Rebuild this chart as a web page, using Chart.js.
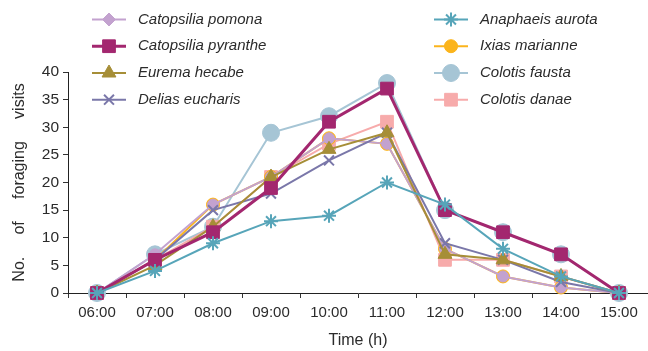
<!DOCTYPE html>
<html lang="en">
  <head>
    <meta charset="UTF-8" />
    <title>Foraging visits</title>
    <script src="https://cdn.jsdelivr.net/npm/chart.js"></script>
    <style>
      * {
        margin: 0;
        padding: 0;
        box-sizing: border-box;
      }
      body {
        background: #ffffff;
      }
      .wrap {
        width: 648px;
        height: 351px;
      }
    </style>
  </head>
  <body>
    <div class="wrap">
      <canvas id="visitsChart"></canvas>
    </div>

    <script>
      // Data
      const hours = ["06:00", "07:00", "08:00", "09:00", "10:00", "11:00", "12:00", "13:00", "14:00", "15:00"];
      const yTicks = [0, 5, 10, 15, 20, 25, 30, 35, 40];

      const catopsiliaPomona = [0, 7, 16, 21, 28, 27, 8, 3, 1, 0];
      const catopsiliaPyranthe = [0, 6, 11, 19, 31, 37, 15, 11, 7, 0];
      const euremaHecabe = [0, 5, 12, 21, 26, 29, 7, 6, 3, 0];
      const deliasEucharis = [0, 6, 15, 18, 24, 29, 9, 6, 2, 0];
      const anaphaeisAurota = [0, 4, 9, 13, 14, 20, 16, 8, 3, 0];
      const ixiasMarianne = [0, 6, 16, 21, 28, 27, 8, 3, 1, 0];
      const colotisFausta = [0, 7, 12, 29, 32, 38, 15, 11, 7, 0];
      const colotisDanae = [0, 6, 12, 21, 27, 31, 6, 6, 3, 0];

      const textColor = "#2b2b2b";

      // helper to build one line dataset
      function series(label, data, color, style, radius, lineWidth, order, column, row) {
        const isStroke = style === "crossRot" || style === "star";
        return {
          label: label,
          data: data,
          borderColor: color,
          backgroundColor: color,
          borderWidth: lineWidth,
          pointStyle: style,
          pointRadius: radius,
          pointHoverRadius: radius,
          pointBackgroundColor: color,
          pointBorderColor: color,
          pointBorderWidth: isStroke ? 2 : 1,
          tension: 0,
          fill: false,
          clip: false,
          order: order,
          legendCol: column,
          legendRow: row,
          legendStyle: style,
          legendRadius: radius,
        };
      }

      // legend drawn in two columns inside the plot, like the figure
      const twoColumnLegend = {
        id: "twoColumnLegend",
        afterDraw(chart) {
          const ctx = chart.ctx;
          const colX = [92, 434];
          const rowY = [19.5, 46.2, 73, 99.7];
          ctx.save();
          chart.data.datasets.forEach((ds) => {
            const x = colX[ds.legendCol];
            const y = rowY[ds.legendRow];
            ctx.strokeStyle = ds.borderColor;
            ctx.lineWidth = ds.borderWidth;
            ctx.beginPath();
            ctx.moveTo(x, y);
            ctx.lineTo(x + 34, y);
            ctx.stroke();

            ctx.fillStyle = ds.pointBackgroundColor;
            ctx.strokeStyle = ds.pointBorderColor;
            ctx.lineWidth = ds.pointBorderWidth;
            Chart.helpers.drawPoint(
              ctx,
              { pointStyle: ds.legendStyle, radius: ds.legendRadius, rotation: 0, borderWidth: ds.pointBorderWidth },
              x + 17,
              y
            );

            ctx.fillStyle = textColor;
            ctx.font = "italic 15px 'Liberation Sans', Arial, sans-serif";
            ctx.textBaseline = "middle";
            ctx.textAlign = "left";
            ctx.fillText(ds.label, x + 46, y);
          });
          ctx.restore();
        },
      };

      const pomona = series("Catopsilia pomona", catopsiliaPomona, "#c3a2cf", "circle", 5.5, 2, 5, 0, 0);
      pomona.legendStyle = "rectRot"; // diamond in the key
      pomona.legendRadius = 6.5;

      const ctx = document.getElementById("visitsChart").getContext("2d");

      const visitsChart = new Chart(ctx, {
        type: "line",
        data: {
          labels: hours,
          datasets: [
            pomona,
            series("Catopsilia pyranthe", catopsiliaPyranthe, "#a3276f", "rect", 9, 3, 2, 0, 1),
            series("Eurema hecabe", euremaHecabe, "#a68e37", "triangle", 8, 2, 3, 0, 2),
            series("Delias eucharis", deliasEucharis, "#7a77a9", "crossRot", 7, 2, 4, 0, 3),
            series("Anaphaeis aurota", anaphaeisAurota, "#57a5b9", "star", 7, 2, 1, 1, 0),
            series("Ixias marianne", ixiasMarianne, "#fbb41c", "circle", 6.5, 2, 6, 1, 1),
            series("Colotis fausta", colotisFausta, "#a6c5d5", "circle", 8.5, 2, 8, 1, 2),
            series("Colotis danae", colotisDanae, "#f7abab", "rect", 9, 2, 7, 1, 3),
          ],
        },
        options: {
          responsive: true,
          maintainAspectRatio: false,
          animation: false,
          layout: {
            autoPadding: false,
            padding: { top: 72, right: 0, bottom: 0, left: 0 },
          },
          plugins: {
            legend: { display: false },
            tooltip: { enabled: false },
          },
          scales: {
            x: {
              type: "category",
              offset: true,
              grid: {
                offset: true,
                drawOnChartArea: false,
                tickLength: 5,
                color: "#333333",
              },
              border: { color: "#222222", width: 1 },
              ticks: {
                color: textColor,
                font: { family: "'Liberation Sans', Arial, sans-serif", size: 15 },
                padding: 6,
                maxRotation: 0,
              },
              title: {
                display: true,
                text: "Time (h)",
                color: textColor,
                font: { family: "'Liberation Sans', Arial, sans-serif", size: 16 },
                padding: { top: 0, bottom: 1 },
              },
              afterFit(scale) {
                scale.height = 58;
              },
            },
            y: {
              min: 0,
              max: 40,
              afterBuildTicks(scale) {
                scale.ticks = yTicks.map((v) => ({ value: v }));
              },
              grid: {
                drawOnChartArea: false,
                tickLength: 5,
                color: "#333333",
              },
              border: { color: "#222222", width: 1 },
              ticks: {
                color: textColor,
                font: { family: "'Liberation Sans', Arial, sans-serif", size: 15.5 },
                padding: 4,
              },
              title: {
                display: true,
                text: "No.     of     foraging     visits",
                color: textColor,
                font: { family: "'Liberation Sans', Arial, sans-serif", size: 16 },
                padding: { top: 10, bottom: 0 },
              },
              afterFit(scale) {
                scale.width = 68;
              },
            },
          },
        },
        plugins: [twoColumnLegend],
      });
    </script>
  </body>
</html>
